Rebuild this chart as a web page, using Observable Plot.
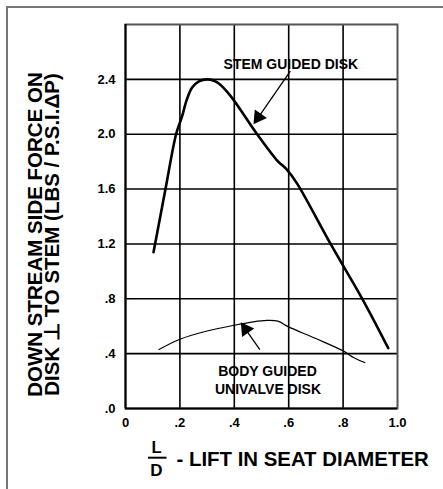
<!DOCTYPE html>
<html>
<head>
<meta charset="utf-8">
<script src="https://cdn.jsdelivr.net/npm/d3@7"></script>
<script src="https://cdn.jsdelivr.net/npm/@observablehq/plot@0.6"></script>
<style>
  html, body { margin: 0; padding: 0; background: #fff; }
  #wrap { position: relative; width: 443px; height: 489px; overflow: hidden; }
  #border { position: absolute; left: 6px; top: 6px; width: 600px; height: 600px; border: 2px solid #777; }
  #chart { position: absolute; left: 0; top: 0; }
</style>
</head>
<body>
<div id="wrap"><div id="border"></div><div id="chart"></div></div>
<script>
// X: L/D (lift in seat diameter), Y: side force
const stemX = [0.103, 0.147, 0.186, 0.208, 0.225, 0.245, 0.27, 0.30, 0.325, 0.343, 0.386, 0.484, 0.557, 0.594, 0.631, 0.754, 0.876, 0.966];
const stemY = [1.14, 1.60, 2.00, 2.13, 2.25, 2.34, 2.385, 2.40, 2.39, 2.37, 2.28, 2.00, 1.81, 1.74, 1.64, 1.20, 0.78, 0.44];
const bodyX = [0.123, 0.2, 0.3, 0.4, 0.47, 0.52, 0.56, 0.6, 0.7, 0.8, 0.84, 0.88];
const bodyY = [0.43, 0.505, 0.565, 0.607, 0.632, 0.642, 0.637, 0.595, 0.51, 0.42, 0.37, 0.335];

const xTicks = [0, 0.2, 0.4, 0.6, 0.8, 1.0];
const xTickLabels = ["0", ".2", ".4", ".6", ".8", "1.0"];
const yTicks = [0, 0.4, 0.8, 1.2, 1.6, 2.0, 2.4];
const yTickLabels = [".0", ".4", ".8", "1.2", "1.6", "2.0", "2.4"];

const labelTexts = ["STEM GUIDED DISK", "BODY GUIDED", "UNIVALVE DISK"];
const labelX = [0.608, 0.522, 0.524];
const labelY = [2.51, 0.273, 0.137];

const arrowX1 = [0.606, 0.494];
const arrowY1 = [2.46, 0.43];
const arrowX2 = [0.484, 0.437];
const arrowY2 = [2.11, 0.59];
const headX = [0.4886, 0.442];
const headY = [2.124, 0.577];
const headAngle = [215, -35];

const yTitle1 = "DOWN STREAM SIDE FORCE ON";
const yTitle2 = "DISK \u22A5 TO STEM (LBS / P.S.I.\u0394P)";
const xTitleNum = "L";
const xTitleDen = "D";
const xTitle = "- LIFT IN SEAT DIAMETER";

const stem = stemX.map((x, i) => ({x, y: stemY[i]}));
const body = bodyX.map((x, i) => ({x, y: bodyY[i]}));
const labels = labelTexts.map((t, i) => ({t, x: labelX[i], y: labelY[i]}));
const arrows = arrowX1.map((x1, i) => ({x1, y1: arrowY1[i], x2: arrowX2[i], y2: arrowY2[i]}));
const heads = headX.map((x, i) => ({x, y: headY[i], a: headAngle[i]}));

const font = "'Liberation Sans', Arial, Helvetica, sans-serif";

// fraction bar between L and D of the x-axis title
function fractionBar(index, scales, values, dims) {
  const g = d3.create("svg:g");
  const y = dims.height - dims.marginBottom + 49.7;
  g.append("line")
    .attr("x1", dims.marginLeft + 23).attr("x2", dims.marginLeft + 41.5)
    .attr("y1", y).attr("y2", y)
    .attr("stroke", "#000").attr("stroke-width", 2);
  return g.node();
}

const plot = Plot.plot({
  width: 443,
  height: 489,
  marginLeft: 125,
  marginRight: 46,
  marginTop: 24,
  marginBottom: 81,
  style: {fontFamily: font, fontWeight: "bold", background: "transparent", color: "#000"},
  x: {domain: [0, 1], axis: null},
  y: {domain: [0, 2.8], axis: null},
  marks: [
    Plot.ruleX(xTicks.slice(1, -1), {stroke: "#000", strokeWidth: 1.6}),
    Plot.ruleY(yTicks.slice(1), {stroke: "#000", strokeWidth: 1.6}),
    Plot.frame({stroke: "#555", strokeWidth: 2}),
    Plot.ruleX([0], {stroke: "#000", strokeWidth: 2}),
    Plot.ruleY([0], {stroke: "#000", strokeWidth: 2}),
    Plot.line(stem, {x: "x", y: "y", curve: "catmull-rom", stroke: "#000", strokeWidth: 2.6}),
    Plot.line(body, {x: "x", y: "y", curve: "catmull-rom", stroke: "#000", strokeWidth: 1.2}),
    Plot.link(arrows, {x1: "x1", y1: "y1", x2: "x2", y2: "y2", stroke: "#000", strokeWidth: 1.3}),
    Plot.dot(heads, {x: "x", y: "y", rotate: "a", symbol: "triangle", r: 5.5, fill: "#000", stroke: "none"}),
    Plot.text(labels, {x: "x", y: "y", text: "t", fontSize: 14, fontWeight: "bold", fill: "#000", lineAnchor: "middle", textAnchor: "middle", letterSpacing: "0.3px"}),
    Plot.text(yTicks, {x: () => 0, y: d => d, text: (d, i) => yTickLabels[i], textAnchor: "end", dx: -10, fontSize: 13, fontWeight: "bold", lineAnchor: "middle"}),
    Plot.text(xTicks, {x: d => d, y: () => 0, text: (d, i) => xTickLabels[i], textAnchor: "middle", dy: 14, fontSize: 13, fontWeight: "bold", lineAnchor: "middle"}),
    Plot.text([yTitle1], {frameAnchor: "left", text: d => d, rotate: -90, textAnchor: "middle", dx: -90, dy: 18, fontSize: 20.5, fontWeight: "bold", lineAnchor: "middle"}),
    Plot.text([yTitle2], {frameAnchor: "left", text: d => d, rotate: -90, textAnchor: "middle", dx: -73, dy: 18, fontSize: 20.5, fontWeight: "bold", lineAnchor: "middle"}),
    Plot.text([xTitleNum], {frameAnchor: "bottom-left", text: d => d, textAnchor: "middle", dx: 31, dy: 39.5, fontSize: 16.5, fontWeight: "bold", lineAnchor: "middle"}),
    fractionBar,
    Plot.text([xTitleDen], {frameAnchor: "bottom-left", text: d => d, textAnchor: "middle", dx: 31, dy: 62.5, fontSize: 17, fontWeight: "bold", lineAnchor: "middle"}),
    Plot.text([xTitle], {frameAnchor: "bottom-left", text: d => d, textAnchor: "start", dx: 51, dy: 51, fontSize: 20.4, fontWeight: "bold", lineAnchor: "middle"})
  ]
});
document.getElementById("chart").appendChild(plot);
</script>
</body>
</html>
